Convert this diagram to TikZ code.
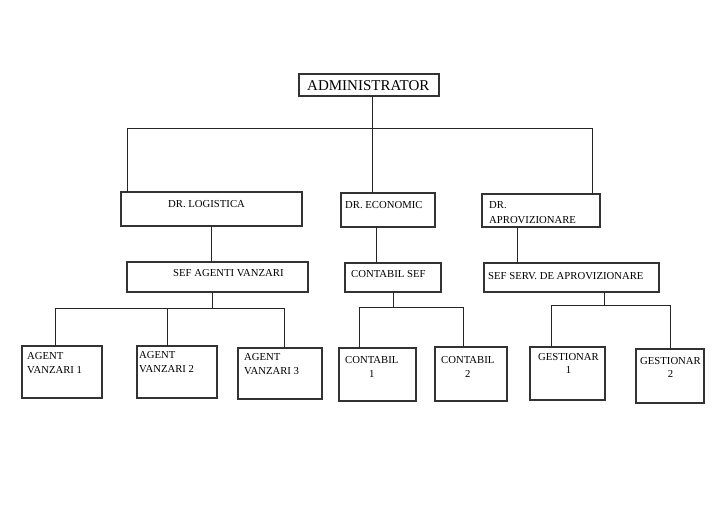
\documentclass[tikz,border=0pt]{standalone}
\usepackage{fontspec}
\setmainfont{Liberation Serif}
\tikzset{
  box/.style={draw=black!80, line width=1.2pt, inner sep=0pt, outer sep=0pt},
  txt/.style={inner sep=0pt, anchor=base west, font=\fontsize{10.7}{13.5}\selectfont},
  twoline/.style={inner sep=0pt, anchor=north west, align=left, font=\fontsize{10.7}{13.5}\selectfont},
  wire/.style={draw=black!85, line width=0.9pt}
}
\begin{document}
\begin{tikzpicture}[x=1pt,y=-1pt]
      \useasboundingbox (0,0) rectangle (728,522);
      % boxes
      \node[box, minimum width=140, minimum height=22] (adm) at (369,85) {};
      \node[box, minimum width=181, minimum height=34] (log) at (211.5,209) {};
      \node[box, minimum width=94, minimum height=34] (eco) at (388,210) {};
      \node[box, minimum width=118, minimum height=33] (apr) at (541,210.5) {};
      \node[box, minimum width=181, minimum height=30] (sav) at (217.5,277) {};
      \node[box, minimum width=96, minimum height=29] (csf) at (393,277.5) {};
      \node[box, minimum width=175, minimum height=29] (ssa) at (571.5,277.5) {};
      \node[box, minimum width=80, minimum height=52] (ag1) at (62,372) {};
      \node[box, minimum width=80, minimum height=52] (ag2) at (177,372) {};
      \node[box, minimum width=84, minimum height=51] (ag3) at (280,373.5) {};
      \node[box, minimum width=77, minimum height=53] (ct1) at (377.5,374.5) {};
      \node[box, minimum width=72, minimum height=54] (ct2) at (471,374) {};
      \node[box, minimum width=75, minimum height=53] (gs1) at (567.5,373.5) {};
      \node[box, minimum width=68, minimum height=54] (gs2) at (670,376) {};
      % texts
      \node[txt, font=\fontsize{15}{18}\selectfont] (adm-t) at (307,90) {ADMINISTRATOR};
      \node[txt] (log-t) at (168,207.5) {DR. LOGISTICA};
      \node[txt] (eco-t) at (345,208.3) {DR. ECONOMIC};
      \node[twoline] (apr-t) at (489,201) {DR.\\[1.5pt]APROVIZIONARE};
      \node[txt] (sav-t) at (173,276.7) {SEF AGENTI VANZARI};
      \node[txt] (csf-t) at (351,277) {CONTABIL SEF};
      \node[txt] (ssa-t) at (488,279) {SEF SERV. DE APROVIZIONARE};
      \node[twoline] (ag1-t) at (27,352.3) {AGENT\\VANZARI 1};
      \node[twoline] (ag2-t) at (139,351.7) {AGENT\\VANZARI 2};
      \node[twoline] (ag3-t) at (244,353.7) {AGENT\\VANZARI 3};
      \node[twoline, align=center] (ct1-t) at (345,356.3) {CONTABIL\\1};
      \node[twoline, align=center] (ct2-t) at (441,356.3) {CONTABIL\\2};
      \node[twoline, align=center] (gs1-t) at (538,353) {GESTIONAR\\1};
      \node[twoline, align=center] (gs2-t) at (640,357) {GESTIONAR\\2};
      % bus points
      \coordinate (b0) at (372,128);
      \coordinate (bl) at (127,128);
      \coordinate (br) at (592,128);
      \coordinate (ec) at (376,245);
      \coordinate (ap) at (517.5,245);
      \coordinate (sb) at (212,308);
      \coordinate (sbl) at (55,308);
      \coordinate (sbm) at (167,308);
      \coordinate (sbr) at (284,308);
      \coordinate (cb) at (393,307);
      \coordinate (cbl) at (359,307);
      \coordinate (cbr) at (463,307);
      \coordinate (gb) at (604,305);
      \coordinate (gbl) at (551,305);
      \coordinate (gbr) at (670,305);
      % connectors
      \draw[wire] (b0 |- adm.south) -- (b0);
      \draw[wire] (bl) -- (br);
      \draw[wire] (bl) -- (bl |- log.north);
      \draw[wire] (b0) -- (b0 |- eco.north);
      \draw[wire] (br) -- (br |- apr.north);
      \draw[wire] (log.south) -- (log.south |- sav.north);
      \draw[wire] (ec |- eco.south) -- (ec |- csf.north);
      \draw[wire] (ap |- apr.south) -- (ap |- ssa.north);
      \draw[wire] (sb |- sav.south) -- (sb);
      \draw[wire] (sbl) -- (sbr);
      \draw[wire] (sbl) -- (sbl |- ag1.north);
      \draw[wire] (sbm) -- (sbm |- ag2.north);
      \draw[wire] (sbr) -- (sbr |- ag3.north);
      \draw[wire] (cb |- csf.south) -- (cb);
      \draw[wire] (cbl) -- (cbr);
      \draw[wire] (cbl) -- (cbl |- ct1.north);
      \draw[wire] (cbr) -- (cbr |- ct2.north);
      \draw[wire] (gb |- ssa.south) -- (gb);
      \draw[wire] (gbl) -- (gbr);
      \draw[wire] (gbl) -- (gbl |- gs1.north);
      \draw[wire] (gbr) -- (gbr |- gs2.north);
\end{tikzpicture}
\end{document}
